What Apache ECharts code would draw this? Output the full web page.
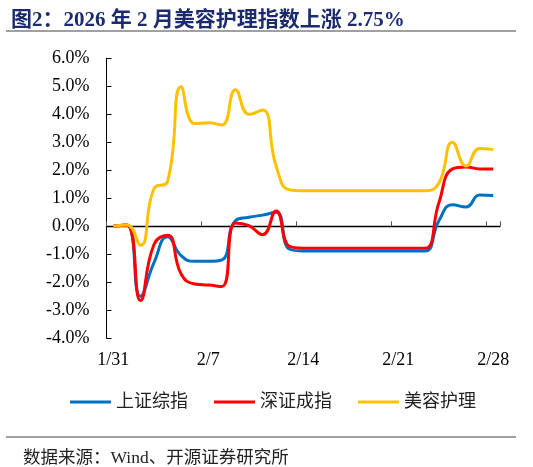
<!DOCTYPE html>
<html>
<head>
<meta charset="utf-8">
<script src="https://cdn.jsdelivr.net/npm/echarts@6/dist/echarts.min.js"></script>
<style>
  html, body { margin: 0; padding: 0; background: #fff; }
  #chart { width: 533px; height: 467px; }
</style>
</head>
<body>
<div id="chart"></div>
<script>
// 日期（自然日）
var dates = ['1/31', '2/1', '2/2', '2/3', '2/4', '2/5', '2/6', '2/7', '2/8', '2/9',
    '2/10', '2/11', '2/12', '2/13', '2/14', '2/15', '2/16', '2/17', '2/18', '2/19',
    '2/20', '2/21', '2/22', '2/23', '2/24', '2/25', '2/26', '2/27', '2/28'];

// 累计涨跌幅 (%)
var shIndex = [0, 0.05, -2.5, -1.3, -0.37, -1.05, -1.25, -1.25, -1.2, 0.2,
    0.32, 0.4, 0.5, -0.82, -0.88, -0.88, -0.88, -0.88, -0.88, -0.88,
    -0.88, -0.88, -0.88, -0.88, 0.2, 0.77, 0.69, 1.12, 1.1];
var szIndex = [0, 0.05, -2.65, -0.65, -0.32, -1.7, -2.06, -2.1, -2.15, 0.12,
    0.02, -0.3, 0.55, -0.72, -0.78, -0.78, -0.78, -0.78, -0.78, -0.78,
    -0.78, -0.78, -0.78, -0.78, 0.85, 2.05, 2.12, 2.05, 2.05];
var beauty = [0, 0.05, -0.68, 1.35, 1.6, 4.98, 3.67, 3.7, 3.62, 4.88,
    4.0, 4.15, 2.15, 1.3, 1.27, 1.27, 1.27, 1.27, 1.27, 1.27,
    1.27, 1.27, 1.27, 1.27, 1.55, 3.0, 2.15, 2.78, 2.74];

var seriesNames = ['上证综指', '深证成指', '美容护理'];
var colors = ['#0070C0', '#FF0000', '#FFC000'];

var serif = "'Liberation Serif', 'Noto Sans CJK SC', serif";

var chart = echarts.init(document.getElementById('chart'));

function mkLine(name, data, color) {
    return {
        name: name,
        type: 'line',
        data: data,
        smooth: 0.5,
        showSymbol: false,
        symbol: 'none',
        xAxisIndex: 0,
        lineStyle: { color: color, width: 3 },
        itemStyle: { color: color }
    };
}

var option = {
    animation: false,
    title: [
        {
            text: '图2：2026 年 2 月美容护理指数上涨 2.75%',
            left: 6,
            top: 5,
            textStyle: { fontFamily: serif, fontSize: 21, fontWeight: 'bold', color: '#1c2b6e' }
        },
        {
            text: '数据来源：Wind、开源证券研究所',
            left: 18,
            top: 445,
            textStyle: { fontFamily: serif, fontSize: 17.5, fontWeight: 'normal', color: '#222' }
        }
    ],
    graphic: [
        { type: 'line', shape: { x1: 6, y1: 31, x2: 516, y2: 31 }, style: { stroke: '#808080', lineWidth: 1.5 } },
        { type: 'line', shape: { x1: 6, y1: 437, x2: 516, y2: 437 }, style: { stroke: '#808080', lineWidth: 1.5 } }
    ],
    legend: {
        data: seriesNames,
        left: 70,
        top: 393,
        padding: 0,
        icon: 'rect',
        itemWidth: 41,
        itemHeight: 3,
        itemGap: 26,
        textStyle: { fontFamily: serif, fontSize: 18, color: '#222' }
    },
    grid: { left: 106.5, right: 33, top: 58.3, bottom: 128.7, containLabel: false },
    xAxis: [
        {
            type: 'category',
            data: dates,
            boundaryGap: true,
            position: 'bottom',
            axisLine: { onZero: true, lineStyle: { color: '#000', width: 1.3 } },
            axisTick: { show: true, inside: true, length: 5, interval: 6, lineStyle: { color: '#555' } },
            axisLabel: { show: false },
            splitLine: { show: false }
        },
        {
            type: 'category',
            data: dates,
            boundaryGap: true,
            position: 'bottom',
            axisLine: { show: false, onZero: false },
            axisTick: { show: false },
            axisLabel: { show: true, interval: 6, margin: 13, fontFamily: serif, fontSize: 18, color: '#000' },
            splitLine: { show: false }
        }
    ],
    yAxis: {
        type: 'value',
        min: -4,
        max: 6,
        interval: 1,
        axisLine: { show: true, lineStyle: { color: '#000', width: 1 } },
        axisTick: { show: true, inside: true, length: 5, lineStyle: { color: '#000' } },
        axisLabel: {
            margin: 17,
            fontFamily: serif,
            fontSize: 18,
            color: '#000',
            formatter: function (v) { return v.toFixed(1) + '%'; }
        },
        splitLine: { show: false }
    },
    series: [
        mkLine(seriesNames[0], shIndex, colors[0]),
        mkLine(seriesNames[1], szIndex, colors[1]),
        mkLine(seriesNames[2], beauty, colors[2])
    ]
};

chart.setOption(option);
</script>
</body>
</html>
